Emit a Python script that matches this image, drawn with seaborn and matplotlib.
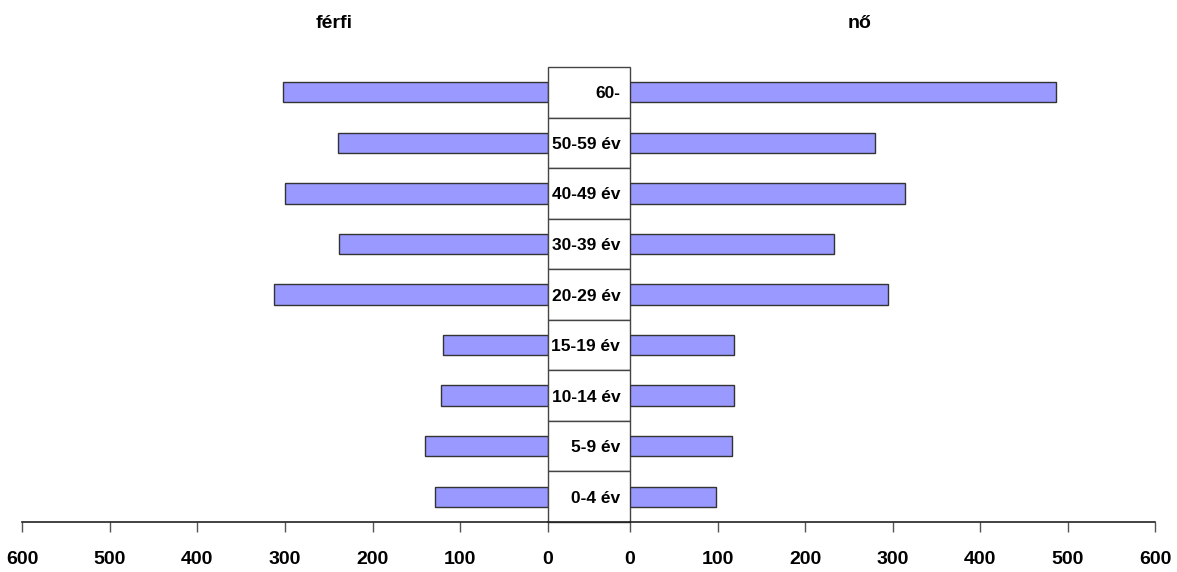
import matplotlib
matplotlib.use("Agg")
import matplotlib.pyplot as plt
import seaborn as sns
import pandas as pd
from matplotlib.patches import Rectangle

age_groups = ["60-", "50-59 év", "40-49 év", "30-39 év", "20-29 év",
              "15-19 év", "10-14 év", "5-9 év", "0-4 év"]
male = [302, 239, 300, 238, 312, 120, 122, 140, 129]
female = [487, 280, 314, 233, 295, 119, 119, 117, 98]
ticks = [0, 100, 200, 300, 400, 500, 600]
left_title = "férfi"
right_title = "nő"

sns.set_theme(style="white")
FONT = ["Liberation Sans Narrow", "Liberation Sans", "DejaVu Sans"]
plt.rcParams["font.family"] = FONT
plt.rcParams["text.color"] = "black"

df = pd.DataFrame({"age": age_groups, "male": male, "female": female})

W, H = 1177, 572
fig = plt.figure(figsize=(W / 100, H / 100), dpi=100)

ybot = 50 / H
yh = 455 / H
axL = fig.add_axes([22 / W, ybot, 526 / W, yh])
axM = fig.add_axes([548 / W, ybot, 82 / W, yh])
axR = fig.add_axes([630 / W, ybot, 525 / W, yh])

bar_kw = dict(color="#9999FF", edgecolor="#333333", linewidth=1.0, width=0.4,
              orient="h", saturation=1)
sns.barplot(data=df, x="male", y="age", order=age_groups, ax=axL, **bar_kw)
sns.barplot(data=df, x="female", y="age", order=age_groups, ax=axR, **bar_kw)

FS = 12.5
FS_BIG = 14
axL.set_xlim(600, 0)
axR.set_xlim(0, 600)
for ax in (axL, axR, axM):
    ax.set_ylim(len(age_groups) - 0.5, -0.5)
    ax.set_ylabel("")
    ax.set_xlabel("")
    ax.set_yticks([])
    for s in ("top", "left", "right"):
        ax.spines[s].set_visible(False)
    ax.spines["bottom"].set_color("#222222")
    ax.spines["bottom"].set_linewidth(1.2)
    ax.patch.set_alpha(0)

for ax in (axL, axR):
    ax.set_xticks(ticks)
    ax.set_xticklabels([str(t) for t in ticks], fontsize=FS_BIG, fontweight="bold",
                       family=FONT)
    ax.tick_params(axis="x", bottom=True, direction="out", length=7, width=1,
                   color="#555555", labelcolor="black", pad=14)

# middle column of age labels
axM.set_xlim(0, 1)
axM.set_xticks([])
for i, lab in enumerate(age_groups):
    axM.add_patch(Rectangle((0, i - 0.5), 1, 1, facecolor="white",
                            edgecolor="#444444", linewidth=1.0, clip_on=False))
    axM.text(0.88, i + 0.03, lab, ha="right", va="center", fontsize=FS,
             fontweight="bold", family=FONT, color="black")

fig.text(334 / W, 1 - 23 / H, left_title, ha="center", va="center",
         fontsize=FS_BIG, fontweight="bold", family=FONT, color="black")
fig.text(860 / W, 1 - 23 / H, right_title, ha="center", va="center",
         fontsize=FS_BIG, fontweight="bold", family=FONT, color="black")

fig.savefig("out.png", dpi=100, facecolor="white")
